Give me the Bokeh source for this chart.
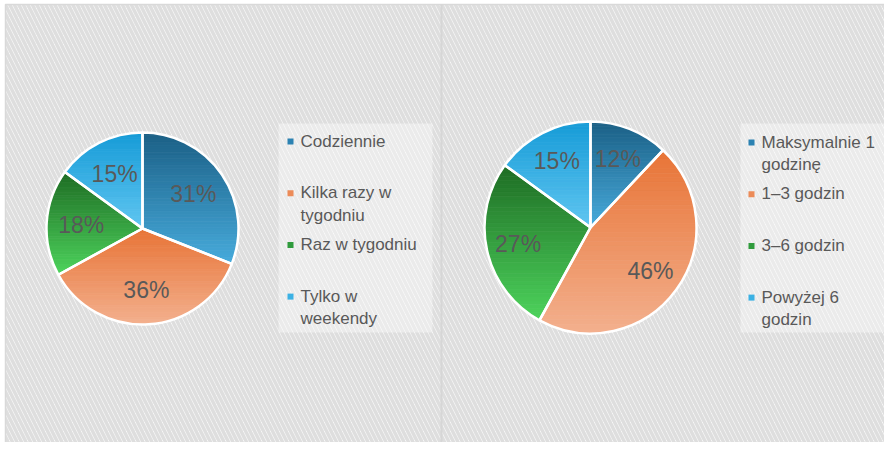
import math
from bokeh.plotting import figure
from bokeh.models import Range1d, ColumnDataSource
from bokeh.core.properties import value
from bokeh.embed import file_html
from bokeh.resources import INLINE

# ---- data ----
left_labels = ["Codziennie", "Kilka razy w\ntygodniu", "Raz w tygodniu", "Tylko w\nweekendy"]
left_values = [31, 36, 18, 15]
right_labels = ["Maksymalnie 1\ngodzinę", "1–3 godzin", "3–6 godzin", "Powyżej 6\ngodzin"]
right_values = [12, 46, 27, 15]

# ---- styles ----
grad_top = [(0x1b, 0x5f, 0x85), (0xe8, 0x74, 0x36), (0x1e, 0x6c, 0x24), (0x16, 0x9b, 0xd7)]
grad_bot = [(0x47, 0xab, 0xdc), (0xf3, 0xb0, 0x8e), (0x4d, 0xd3, 0x5c), (0x60, 0xc6, 0xf1)]
mid_colors = ["#2c82b2", "#ec8b58", "#2f9b3c", "#3bb1e4"]
FONT = value("Liberation Sans")
TXT = "#595959"
W, H = 884, 442


def py(page_y):
    return H - page_y


def hexc(c):
    return "#%02x%02x%02x" % tuple(int(round(v)) for v in c)


p = figure(width=W, height=H, output_backend="svg", toolbar_location=None,
           x_range=Range1d(0, W), y_range=Range1d(0, H),
           x_axis_location=None, y_axis_location=None, min_border=0,
           background_fill_color="white", border_fill_color="white")
p.grid.visible = False
p.outline_line_color = None

# hatched background with border
p.quad(left=[5], right=[W + 10], bottom=[-10], top=[py(4)],
       fill_color="#fcfcfc", line_color="#d9d9d9", line_width=1.5,
       hatch_pattern="\\", hatch_color="#dedede", hatch_weight=3.5, hatch_scale=9)

# divider between panels
p.segment(x0=[441], y0=[py(4)], x1=[441], y1=[-10], line_color="#d6d6d6", line_width=2)


def clip_poly(pts, yv, keep_above):
    out = []
    n = len(pts)
    for i in range(n):
        a = pts[i]
        b = pts[(i + 1) % n]
        ina = a[1] >= yv if keep_above else a[1] <= yv
        inb = b[1] >= yv if keep_above else b[1] <= yv
        if ina:
            out.append(a)
        if ina != inb:
            t = (yv - a[1]) / (b[1] - a[1])
            out.append((a[0] + t * (b[0] - a[0]), yv))
    return out


def pie(values, labels, cx, cy, r, lab_frac, leg_box, mark_x, leg_y0, leg_dy):
    total = float(sum(values))
    starts, ends, lx, ly, texts = [], [], [], [], []
    cum = 0.0
    for v in values:
        a0 = math.pi / 2 - 2 * math.pi * cum / total
        cum += v
        a1 = math.pi / 2 - 2 * math.pi * cum / total
        starts.append(a0)
        ends.append(a1)
        mid = (a0 + a1) / 2
        lx.append(cx + lab_frac * r * math.cos(mid))
        ly.append(py(cy) + lab_frac * r * math.sin(mid))
        texts.append(f"{round(100 * v / total)}%")

    # gradient fill: each slice split into horizontal bands
    xs, ys, fc = [], [], []
    for k, (a0, a1) in enumerate(zip(starts, ends)):
        nseg = max(8, int(abs(a0 - a1) * 80))
        poly = [(cx, py(cy))] + [
            (cx + r * math.cos(a0 + (a1 - a0) * j / nseg), py(cy) + r * math.sin(a0 + (a1 - a0) * j / nseg))
            for j in range(nseg + 1)]
        ytop = max(q[1] for q in poly)
        ybot = min(q[1] for q in poly)
        nb = 40
        for b in range(nb):
            y_hi = ytop - (ytop - ybot) * b / nb
            y_lo = ytop - (ytop - ybot) * (b + 1) / nb
            part = clip_poly(poly, y_lo, True)
            part = clip_poly(part, y_hi, False) if part else []
            if len(part) < 3:
                continue
            t = (b + 0.5) / nb
            col = hexc([grad_top[k][i] + (grad_bot[k][i] - grad_top[k][i]) * t for i in range(3)])
            xs.append([q[0] for q in part])
            ys.append([q[1] for q in part])
            fc.append(col)
    p.patches(xs=xs, ys=ys, fill_color=fc, line_color=fc, line_width=0.8)

    src = ColumnDataSource(dict(start=starts, end=ends))
    p.wedge(x=cx, y=py(cy), radius=r, start_angle="start", end_angle="end",
            direction="clock", fill_color=None, line_color="white", line_width=2.5, source=src)
    p.text(x=lx, y=ly, text=texts, text_font=FONT, text_font_size="23px",
           text_color=TXT, text_align="center", text_baseline="middle")
    # legend box
    bx0, bx1, by0, by1 = leg_box
    p.quad(left=[bx0], right=[bx1], top=[py(by0)], bottom=[py(by1)],
           fill_color="white", fill_alpha=0.4, line_color=None)
    yy = [leg_y0 + i * leg_dy for i in range(len(labels))]
    p.scatter(x=[mark_x] * len(labels), y=[py(y) for y in yy], marker="square", size=6,
              fill_color=mid_colors, line_color=None)
    p.text(x=[mark_x + 10] * len(labels), y=[py(y) + 10 for y in yy], text=labels,
           text_font=FONT, text_font_size="17px", text_color=TXT,
           text_align="left", text_baseline="top", text_line_height=1.18)


pie(left_values, left_labels, 142, 228, 96, 0.64, (278, 432, 123, 332), 290, 141, 51.7)
pie(right_values, right_labels, 590, 227, 106, 0.70, (740, 888, 123, 332), 751, 142, 51.7)

open("out.html", "w").write(file_html(p, INLINE))
